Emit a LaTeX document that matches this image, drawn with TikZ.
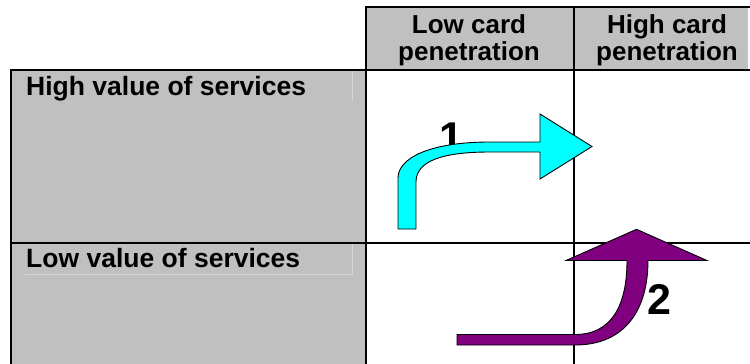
\documentclass[tikz,border=0pt]{standalone}
\usepackage{fontspec}
\setmainfont{Liberation Sans}
\definecolor{cellgray}{RGB}{192,192,192}
\definecolor{boxline}{RGB}{215,215,215}
\definecolor{arrcyan}{RGB}{0,255,255}
\definecolor{arrpurple}{RGB}{128,0,128}
\begin{document}
\begin{tikzpicture}[x=1pt,y=-1pt,
  rule/.style={line width=2pt,black},
  hdr/.style={font=\fontsize{26}{27}\selectfont\bfseries,align=center,inner sep=0pt,anchor=base},
  rowlbl/.style={font=\fontsize{26.5}{28}\selectfont\bfseries,inner sep=0pt,anchor=base west},
  num/.style={font=\fontsize{43}{44}\selectfont\bfseries,inner sep=0pt,anchor=base},
  arrowshape/.style={draw=black,line width=0.9pt,line join=miter}]
\useasboundingbox (0,0) rectangle (750,364);
% fills
\fill[cellgray] (366,7) rectangle (748,70);
\fill[cellgray] (11,70) rectangle (366,364);
% faint text box borders
\draw[boxline,line width=0.8pt] (352,70) -- (352,100);
\draw[boxline,line width=0.8pt] (25,274) -- (352,274) -- (352,244);
% grid
\draw[rule] (366,7) -- (750,7);
\draw[rule] (11,70) -- (750,70);
\draw[rule] (11,243) -- (750,243);
\draw[rule] (11,69) -- (11,364);
\draw[rule] (366,6) -- (366,364);
\draw[rule] (574,6) -- (574,364);
% header texts
\node[hdr] (h1a) at (469,33) {Low card};
\node[hdr] (h1b) at (469,60) {penetration};
\node[hdr] (h2a) at (667,33) {High card};
\node[hdr] (h2b) at (667,60) {penetration};
% row labels
\node[rowlbl] (r1) at (26,95) {High value of services};
\node[rowlbl] (r2) at (26,267) {Low value of services};
% labels
\node[num] (n1) at (451,152) {1};
% arrow 1
\draw[arrowshape,fill=arrcyan] (398,229) -- (398,178)
  .. controls (398,158) and (430,142) .. (490,142) -- (540,142)
  -- (540,114) -- (592,146.5) -- (540,179) -- (540,152) -- (490,152)
  .. controls (445,152) and (416,160) .. (416,182) -- (416,229) -- cycle;
% arrow 2
\draw[arrowshape,fill=arrpurple] (457,334.5) -- (575,334.5)
  .. controls (612,334.5) and (627,305) .. (627,260.5)
  -- (566,260.5) -- (636.5,229.3) -- (707,260.5) -- (648,260.5)
  .. controls (648,310) and (625,345) .. (575,345) -- (457,345) -- cycle;
\node[num] (n2) at (659,314) {2};
\end{tikzpicture}
\end{document}
